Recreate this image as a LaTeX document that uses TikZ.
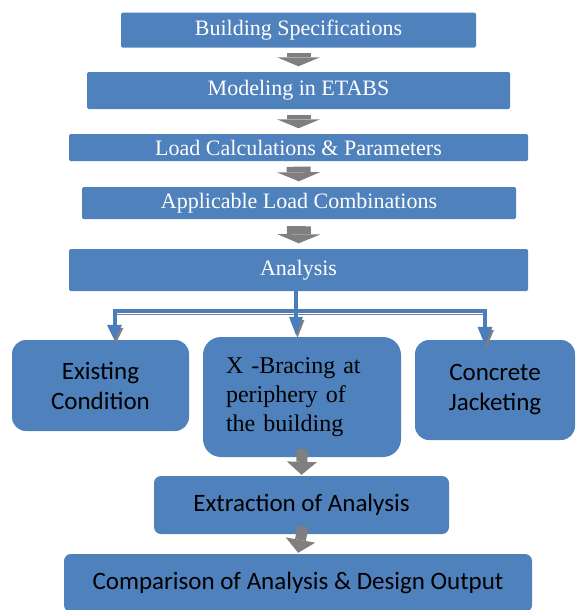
\documentclass[tikz,border=0pt]{standalone}
\usepackage{fontspec}
\setmainfont{Liberation Serif}
\newfontfamily\carlito{Carlito}
\usetikzlibrary{arrows.meta}
\definecolor{boxblue}{HTML}{4F81BD}
\definecolor{linkblue}{HTML}{4A7EBB}
\definecolor{arrowgray}{HTML}{7F7F7F}

\begin{document}
\begin{tikzpicture}[x=1pt,y=-1pt]
\tikzstyle{stage}=[rectangle,rounded corners=1.5pt,fill=boxblue,text=white,inner sep=0pt,font=\fontsize{22}{26}\selectfont]
\tikzstyle{option}=[rectangle,rounded corners=14pt,fill=boxblue,text=black,inner sep=0pt,align=center,font=\carlito\fontsize{25}{30}\selectfont]
\tikzstyle{result}=[rectangle,rounded corners=7pt,fill=boxblue,text=black,inner sep=0pt,font=\carlito\fontsize{25}{30}\selectfont]
\tikzstyle{flow}=[draw=arrowgray,line width=24pt,-{Triangle[width=43pt,length=9pt,line width=0pt]},shorten <=5.5pt,shorten >=5.5pt]
\tikzstyle{flowsmall}=[draw=arrowgray,line width=11pt,-{Triangle[width=30pt,length=13pt,line width=0pt]},shorten <=-8pt,shorten >=1pt]
\tikzstyle{link}=[draw=linkblue,line width=4pt,preaction={draw=arrowgray,transform canvas={shift={(1.5pt,-3pt)}}}]
\useasboundingbox (0,0) rectangle (576,610);
\node[stage,minimum width=355,minimum height=35] (S_1) at (298.5,30.2) {Building Specifications};
\node[stage,minimum width=423,minimum height=37] (S_2) at (298.5,90.5) {Modeling in ETABS};
\node[stage,minimum width=459,minimum height=27] (S_3) at (298.5,147.5) {Load Calculations \& Parameters};
\node[stage,minimum width=434,minimum height=32] (S_4) at (299,203) {Applicable Load Combinations};
\node[stage,minimum width=459,minimum height=42] (A) at (298.5,270) {Analysis};
\node[option,minimum width=177,minimum height=91] (EC) at (100.5,385.5) {Existing\\Condition};
\node[option,minimum width=198,minimum height=120,rounded corners=18pt,align=left,text width=152,font=\fontsize{24}{29}\selectfont] (XB) at (302,397) {X -Bracing at\\periphery of\\the building};
\node[option,minimum width=160,minimum height=100] (CJ) at (495,390) {Concrete\\Jacketing};
\node[result,minimum width=295,minimum height=58] (EA) at (301.5,505) {Extraction of Analysis};
\node[result,minimum width=468,minimum height=58] (CO) at (298,583) {Comparison of Analysis \& Design Output};
\coordinate (J) at (296,311);
\coordinate (L) at (114.5,311);
\coordinate (R) at (485,311);
\draw[flow] (S_1) -- (S_2);
\draw[flow] (S_2) -- (S_3);
\draw[flow] (S_3) -- (S_4);
\draw[flow,shorten <=7pt] (S_4) -- (A);
\draw[link,{Triangle[width=15pt,length=15pt,line width=0pt]}-{Triangle[width=15pt,length=18pt,line width=0pt]}] (L |- EC.north) -- (L) -- (R) -- ([yshift=-5pt]R |- CJ.north);
\draw[link,-{Triangle[width=14pt,length=18pt,line width=0pt]},shorten >=2pt] (A.south -| J) -- (XB.north -| J);
\draw[flowsmall] (XB.south) -- (EA.north);
\draw[flowsmall] (EA.south) -- (CO.north);
\end{tikzpicture}
\end{document}
